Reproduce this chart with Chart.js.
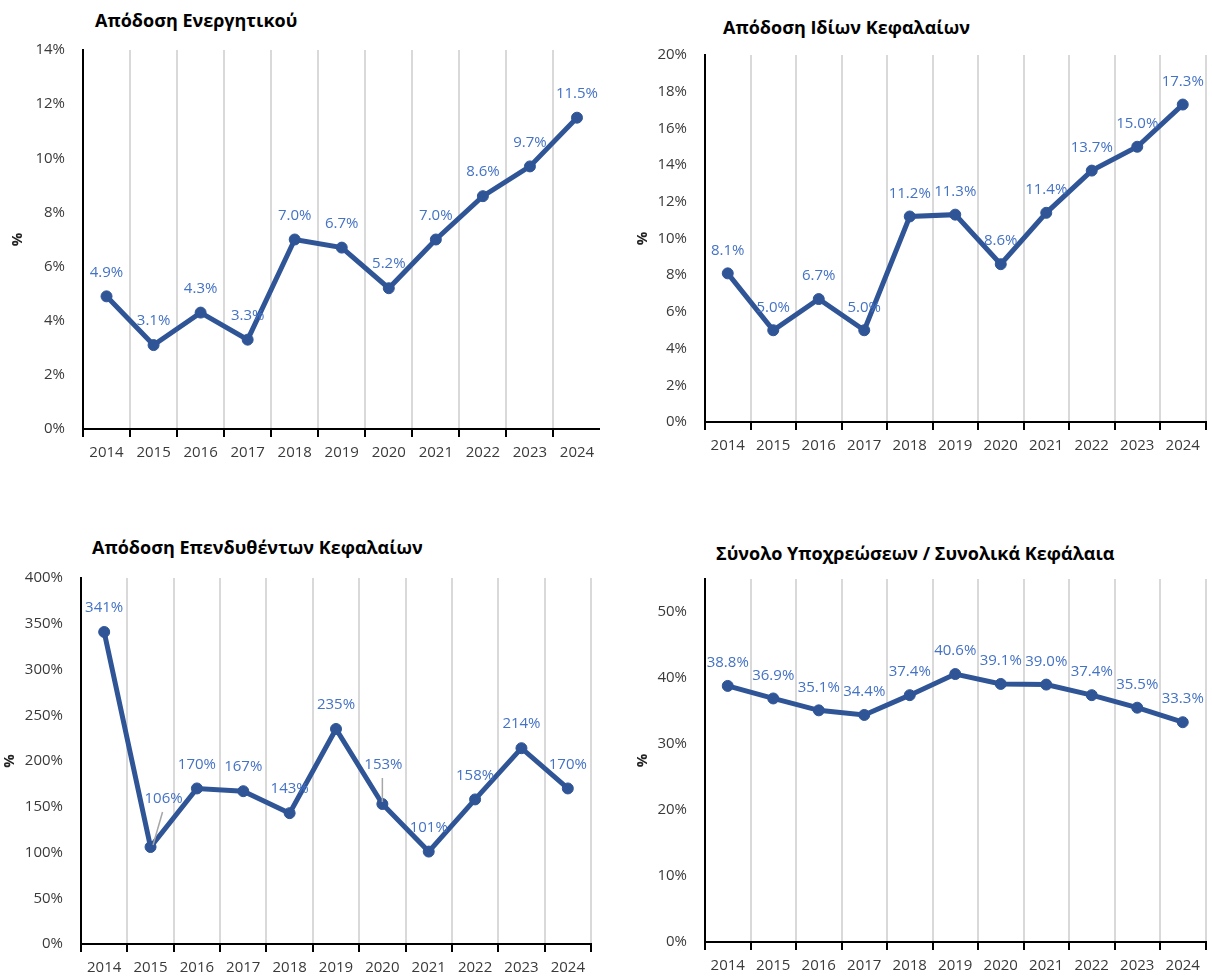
<!DOCTYPE html>
<html><head><meta charset="utf-8">
<script src="https://cdn.jsdelivr.net/npm/chart.js@4.4.1/dist/chart.umd.min.js"></script>
<style>
html,body{margin:0;padding:0;width:1212px;height:978px;overflow:hidden;background:#fff;font-family:'Open Sans',sans-serif;}
.box{position:absolute;overflow:hidden;}
.box canvas{position:absolute;left:0;top:0;}
.title{position:absolute;font-weight:bold;font-size:18px;line-height:24px;color:#000;white-space:nowrap;}
</style></head><body>

<div class="title" style="left:95px;top:8px;">Απόδοση Ενεργητικού</div>
<div class="title" style="left:723px;top:15px;">Απόδοση Ιδίων Κεφαλαίων</div>
<div class="title" style="left:92px;top:535px;">Απόδοση Επενδυθέντων Κεφαλαίων</div>
<div class="title" style="left:716px;top:541px;">Σύνολο Υποχρεώσεων / Συνολικά Κεφάλαια</div>

<div class="box" style="left:0;top:0;width:600px;height:480px;"><canvas id="c1" width="607" height="480"></canvas></div>
<div class="box" style="left:606px;top:0;width:606px;height:480px;"><canvas id="c2" width="606" height="480"></canvas></div>
<div class="box" style="left:0;top:480px;width:606px;height:498px;"><canvas id="c3" width="606" height="498"></canvas></div>
<div class="box" style="left:606px;top:480px;width:606px;height:498px;"><canvas id="c4" width="606" height="498"></canvas></div>

<script>
// ---- data ----
const years = ['2014','2015','2016','2017','2018','2019','2020','2021','2022','2023','2024'];
const roaValues  = [4.9, 3.1, 4.3, 3.3, 7.0, 6.7, 5.2, 7.0, 8.6, 9.7, 11.5];
const roeValues  = [8.1, 5.0, 6.7, 5.0, 11.2, 11.3, 8.6, 11.4, 13.7, 15.0, 17.3];
const roicValues = [341, 106, 170, 167, 143, 235, 153, 101, 158, 214, 170];
const liabValues = [38.8, 36.9, 35.1, 34.4, 37.4, 40.6, 39.1, 39.0, 37.4, 35.5, 33.3];
const roaTicks  = [0, 2, 4, 6, 8, 10, 12, 14];
const roeTicks  = [0, 2, 4, 6, 8, 10, 12, 14, 16, 18, 20];
const roicTicks = [0, 50, 100, 150, 200, 250, 300, 350, 400];
const liabTicks = [0, 10, 20, 30, 40, 50];

const LINE = '#2F5597';
const LABEL = '#4472C4';
const TEXT = '#3a3a3a';
const FONT = "'Open Sans', sans-serif";

const pointLabels = {
  id: 'pointLabels',
  afterDatasetsDraw(chart, args, opts) {
    const ctx = chart.ctx;
    const meta = chart.getDatasetMeta(0);
    const data = chart.data.datasets[0].data;
    ctx.save();
    ctx.font = '15px ' + FONT;
    ctx.textAlign = 'center';
    ctx.textBaseline = 'middle';
    meta.data.forEach((pt, i) => {
      const off = (opts.offsets && opts.offsets[i]) || opts.defaultOffset;
      const x = pt.x + off[0], y = pt.y + off[1];
      if (opts.leaders && opts.leaders[i]) {
        ctx.strokeStyle = '#a6a6a6';
        ctx.lineWidth = 1.5;
        ctx.beginPath();
        ctx.moveTo(x - 1, y + 13);
        ctx.lineTo(pt.x + (off[0] > 3 ? 2.5 : 0), pt.y - 2);
        ctx.stroke();
      }
      ctx.fillStyle = LABEL;
      ctx.fillText(data[i].toFixed(opts.decimals) + '%', x, y);
    });
    ctx.restore();
  }
};

function makeChart(id, cfg) {
  const c = cfg;
  return new Chart(document.getElementById(id), {
    type: 'line',
    data: {
      labels: years,
      datasets: [{
        data: c.values,
        borderColor: LINE,
        backgroundColor: LINE,
        borderWidth: 5,
        pointRadius: 5.5,
        pointHoverRadius: 5.5,
        pointBackgroundColor: LINE,
        pointBorderColor: LINE,
        pointBorderWidth: 1,
        tension: 0,
        clip: false
      }]
    },
    plugins: [pointLabels],
    options: {
      responsive: false,
      animation: false,
      devicePixelRatio: 1,
      events: [],
      layout: { padding: { top: c.plot.top - c.cy, right: c.cx + c.cw - c.plot.right, bottom: 0, left: 0 } },
      plugins: {
        legend: { display: false },
        title: { display: false },
        tooltip: { enabled: false },
        pointLabels: { decimals: c.decimals, defaultOffset: c.defaultOffset, offsets: c.offsets || null, leaders: c.leaders || null }
      },
      scales: {
        x: {
          type: 'category',
          offset: true,
          grid: { display: true, offset: true, color: '#d9d9d9', lineWidth: 2, drawTicks: true, tickLength: 8, tickColor: '#000', tickWidth: 2 },
          border: { display: true, color: '#000', width: 2 },
          ticks: { color: TEXT, font: { family: FONT, size: 15 }, padding: 7, maxRotation: 0, autoSkip: false },
          afterFit(s) { s.height = c.cy + c.ch - c.plot.bottom; }
        },
        y: {
          min: c.ticks[0],
          max: c.yMax,
          grid: { display: false, drawTicks: false },
          border: { display: true, color: '#000', width: 2 },
          ticks: { color: TEXT, font: { family: FONT, size: 15 }, padding: 18, callback: v => v + '%' },
          afterBuildTicks(s) { s.ticks = c.ticks.map(v => ({ value: v })); },
          title: { display: true, text: '%', color: '#222', font: { family: FONT, size: 15, weight: 'bold' }, padding: { top: c.titlePad, bottom: 0 } },
          afterFit(s) { s.width = c.plot.left - c.cx; }
        }
      }
    }
  });
}

makeChart('c1', { cx: 0, cy: 0, cw: 607, ch: 480, plot: { left: 83, top: 50, right: 607, bottom: 429 },
  values: roaValues, ticks: roaTicks, yMax: 14, decimals: 1, titlePad: 9, defaultOffset: [0, -24] });
makeChart('c2', { cx: 606, cy: 0, cw: 606, ch: 480, plot: { left: 705, top: 55, right: 1212, bottom: 422 },
  values: roeValues, ticks: roeTicks, yMax: 20, decimals: 1, titlePad: 28, defaultOffset: [0, -23] });
makeChart('c3', { cx: 0, cy: 480, cw: 606, ch: 498, plot: { left: 81, top: 578, right: 591, bottom: 944 },
  values: roicValues, ticks: roicTicks, yMax: 400, decimals: 0, titlePad: 1, defaultOffset: [0, -24],
  offsets: [null, [13, -48], null, null, null, null, [1, -39], null, null, null, null],
  leaders: [false, true, false, false, false, false, true, false, false, false, false] });
makeChart('c4', { cx: 606, cy: 480, cw: 606, ch: 498, plot: { left: 705, top: 579, right: 1211, bottom: 942 },
  values: liabValues, ticks: liabTicks, yMax: 55, decimals: 1, titlePad: 28, defaultOffset: [0, -23] });
</script>
</body></html>
